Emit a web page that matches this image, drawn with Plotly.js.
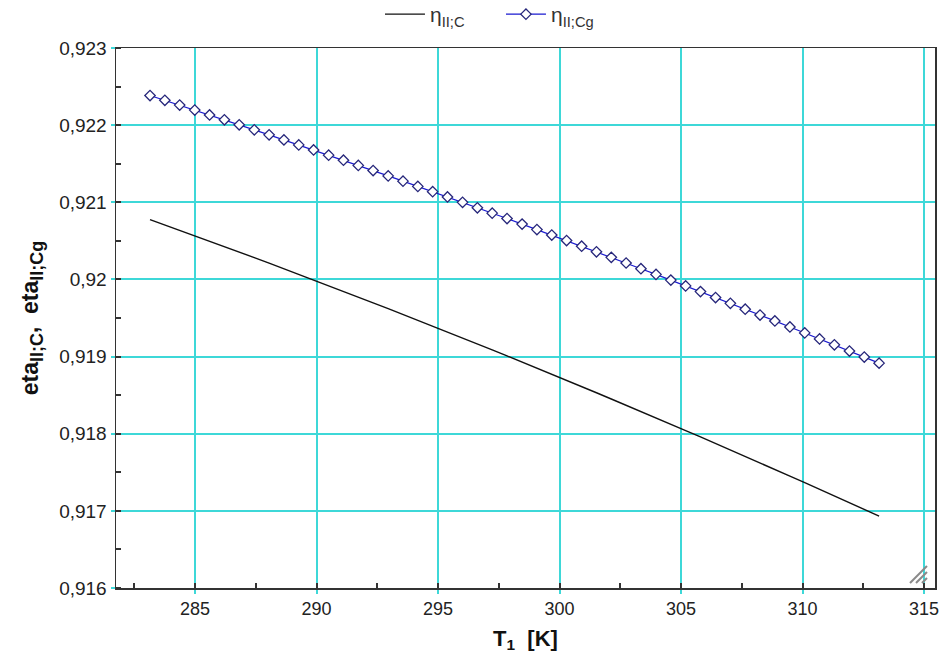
<!DOCTYPE html>
<html>
<head>
<meta charset="utf-8">
<script src="https://cdn.plot.ly/plotly-3.0.1.min.js"></script>
<style>html,body{margin:0;padding:0;background:#fff;}#chart{width:940px;height:666px;}</style>
</head>
<body>
<div id="chart"></div>
<script>
// Temperature T1 [K]
const T1 = [283.15, 283.76, 284.37, 284.99, 285.60, 286.21, 286.82, 287.44, 288.05, 288.66,
  289.27, 289.88, 290.50, 291.11, 291.72, 292.33, 292.95, 293.56, 294.17, 294.78,
  295.39, 296.01, 296.62, 297.23, 297.84, 298.46, 299.07, 299.68, 300.29, 300.91,
  301.52, 302.13, 302.74, 303.35, 303.97, 304.58, 305.19, 305.80, 306.42, 307.03,
  307.64, 308.25, 308.86, 309.48, 310.09, 310.70, 311.31, 311.93, 312.54, 313.15];

// eta II;C (black line)
const etaC = [0.920776, 0.920707, 0.920638, 0.920567, 0.920497, 0.920426, 0.920355, 0.920283, 0.920211, 0.920139,
  0.920066, 0.919994, 0.919919, 0.919846, 0.919772, 0.919697, 0.919621, 0.919546, 0.919471, 0.919395,
  0.919319, 0.919241, 0.919164, 0.919086, 0.919008, 0.918929, 0.918850, 0.918771, 0.918692, 0.918611,
  0.918531, 0.918450, 0.918370, 0.918288, 0.918206, 0.918124, 0.918041, 0.917958, 0.917874, 0.917791,
  0.917707, 0.917622, 0.917538, 0.917451, 0.917366, 0.917280, 0.917194, 0.917106, 0.917019, 0.916932];

// eta II;Cg (blue line with markers)
const etaCg = [0.922384, 0.922322, 0.922260, 0.922195, 0.922132, 0.922069, 0.922005, 0.921939, 0.921874, 0.921809,
  0.921744, 0.921678, 0.921611, 0.921545, 0.921478, 0.921411, 0.921342, 0.921274, 0.921206, 0.921138,
  0.921069, 0.920999, 0.920929, 0.920859, 0.920789, 0.920717, 0.920646, 0.920575, 0.920504, 0.920431,
  0.920358, 0.920286, 0.920213, 0.920139, 0.920065, 0.919991, 0.919916, 0.919842, 0.919765, 0.919690,
  0.919614, 0.919538, 0.919462, 0.919384, 0.919307, 0.919229, 0.919152, 0.919072, 0.918994, 0.918915];

const xTickVals = [285, 290, 295, 300, 305, 310, 315];
const xTickText = ['285', '290', '295', '300', '305', '310', '315'];
const yTickVals = [0.916, 0.917, 0.918, 0.919, 0.920, 0.921, 0.922, 0.923];
const yTickText = ['0,916', '0,917', '0,918', '0,919', '0,92', '0,921', '0,922', '0,923'];

const seriesNames = ['\u03b7<sub>II;C</sub>', '\u03b7<sub>II;Cg</sub>'];

const traces = [
  {
    x: T1, y: etaC, type: 'scatter', mode: 'lines', name: seriesNames[0],
    line: {color: '#111111', width: 1.4}
  },
  {
    x: T1, y: etaCg, type: 'scatter', mode: 'lines+markers', name: seriesNames[1],
    line: {color: '#1a1ad0', width: 1.2},
    marker: {symbol: 'diamond', size: 8, color: '#ffffff', line: {color: '#26267a', width: 1.3}}
  }
];

const gridCol = '#3ed8d8';
// window resize grip in the bottom-right corner of the plot frame
const gripShapes = [[0.9695, 0.0407], [0.9768, 0.0296], [0.9841, 0.0185]].map(p => ({
  type: 'line', xref: 'paper', yref: 'paper',
  x0: p[0], y0: 0.0093, x1: 0.9902, y1: p[1],
  line: {color: '#8a8a8a', width: 2}
}));

const layout = {
  width: 940, height: 666,
  margin: {l: 116, r: 5, t: 48, b: 78, autoexpand: false},
  paper_bgcolor: '#ffffff', plot_bgcolor: '#ffffff',
  font: {family: 'Liberation Sans, Arial, sans-serif', color: '#222222', size: 18},
  showlegend: true,
  legend: {orientation: 'h', x: 0.3223, xanchor: 'left', y: 1.1, yanchor: 'top',
    font: {size: 21, color: '#333333'}, bgcolor: 'rgba(0,0,0,0)', itemwidth: 40,
    entrywidth: 66, entrywidthmode: 'pixels', tracegroupgap: 0},
  shapes: gripShapes,
  xaxis: {
    range: [281.75, 315.45],
    tickmode: 'array', tickvals: xTickVals, ticktext: xTickText,
    ticklabeloverflow: 'allow',
    showgrid: true, gridcolor: gridCol, gridwidth: 2,
    zeroline: false,
    showline: true, linecolor: '#333333', linewidth: 1.5, mirror: true,
    ticks: 'outside', ticklen: 4, tickcolor: gridCol, tickwidth: 2,
    tickfont: {size: 18, color: '#222222'},
    minor: {dtick: 2.5, tick0: 282.5, ticks: 'inside', ticklen: 5, tickcolor: '#333333', showgrid: false},
    title: {text: '<b>T<sub>1</sub>  [K]</b>', font: {size: 22, color: '#111111'}, standoff: 12}
  },
  yaxis: {
    range: [0.916, 0.923],
    tickmode: 'array', tickvals: yTickVals, ticktext: yTickText,
    showgrid: true, gridcolor: gridCol, gridwidth: 2,
    zeroline: false,
    showline: true, linecolor: '#333333', linewidth: 1.5, mirror: true,
    ticks: 'outside', ticklen: 4, tickcolor: gridCol, tickwidth: 2,
    tickfont: {size: 19, color: '#222222'},
    minor: {dtick: 0.0005, tick0: 0.9155, ticks: 'inside', ticklen: 5, tickcolor: '#333333', showgrid: false},
    title: {text: '<b>eta<sub><span style="font-size:18px">II;C</span></sub>,  eta<sub><span style="font-size:18px">II;Cg</span></sub></b>',
      font: {size: 23, color: '#111111'}, standoff: 14}
  }
};

Plotly.newPlot('chart', traces, layout, {displayModeBar: false, staticPlot: true});
</script>
</body>
</html>
